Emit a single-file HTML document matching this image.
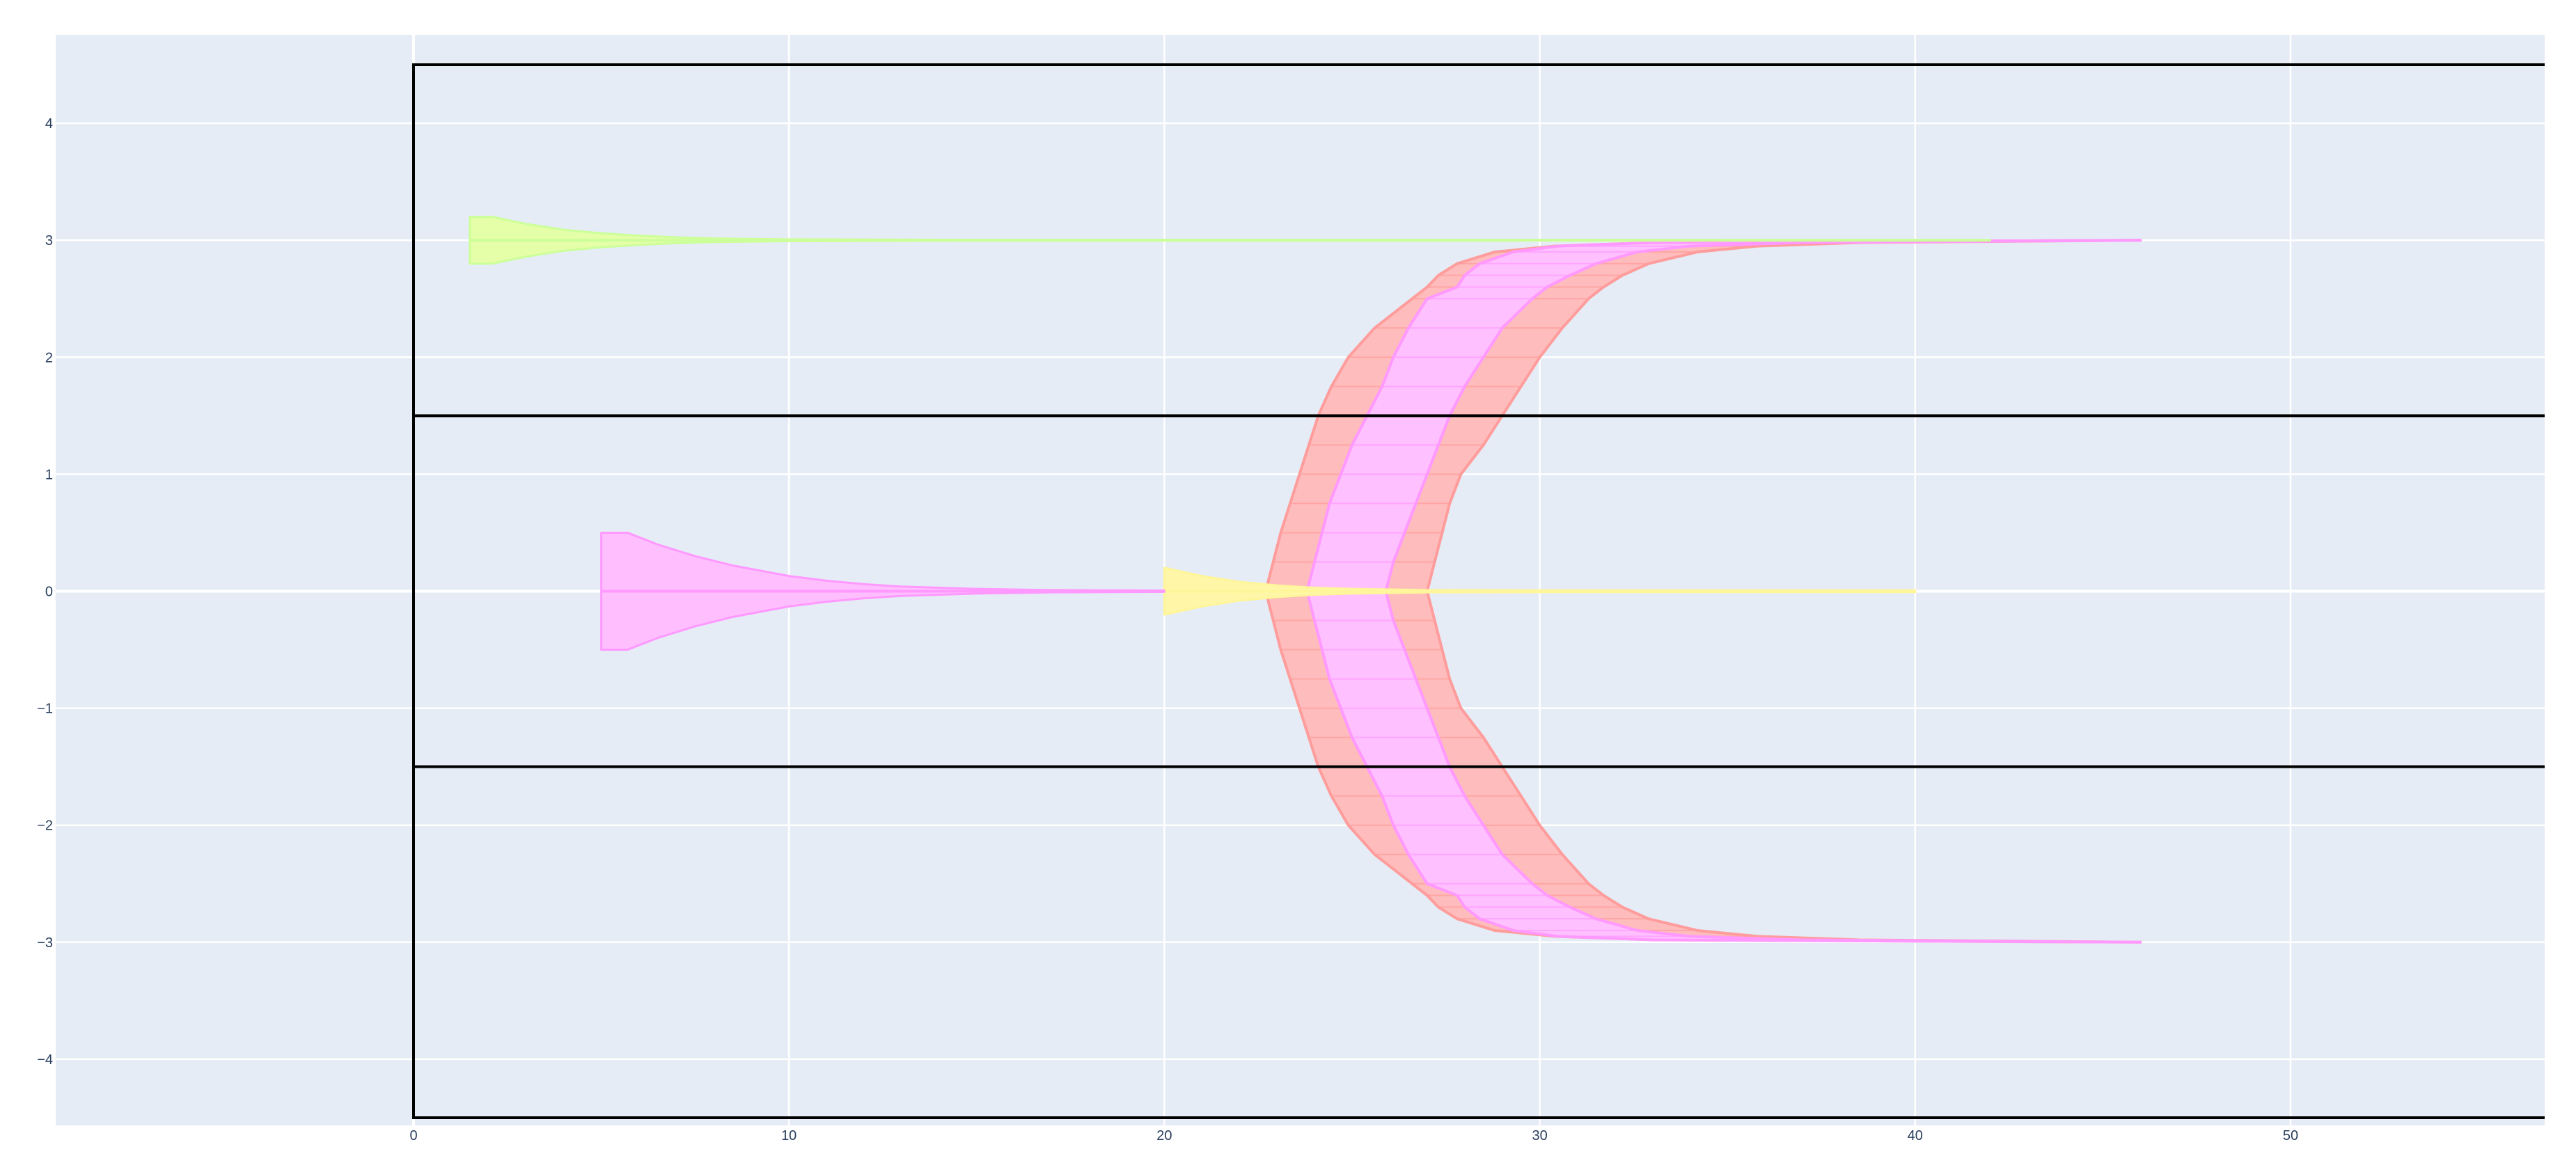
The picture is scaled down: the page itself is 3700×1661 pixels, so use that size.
<!DOCTYPE html>
<html><head><meta charset="utf-8"><style>
html,body{margin:0;padding:0;background:#fff;}
svg{display:block;font-family:"Liberation Sans",sans-serif;}
</style></head><body>
<svg id="chart" width="3700" height="1661" viewBox="0 0 3700 1661" xmlns="http://www.w3.org/2000/svg">
<defs><clipPath id="clip"><rect x="80" y="50" width="3575" height="1567"/></clipPath></defs>
<rect x="80" y="50" width="3575" height="1567" fill="#e5ecf6"/>
<g id="grid"></g>
<g id="marks" clip-path="url(#clip)"></g>
<g id="shapes" clip-path="url(#clip)"></g>
<g id="xticks"></g>
<g id="yticks"></g>
</svg>
<script>
const xTicks = [0,10,20,30,40,50];
const yTicks = [-4,-3,-2,-1,0,1,2,3,4];
const yTickLabels = ["\u22124","\u22123","\u22122","\u22121","0","1","2","3","4"];
const hLines = [4.5,1.5,-1.5,-4.5];
const vLineX = [0];
// green series at y=3
const greenY = 3;
const greenX = [1.5,2.1,3,4,5,6,7,8,10,15,42];
const greenHW = [0.2,0.2,0.14,0.09,0.06,0.04,0.025,0.015,0.008,0.003,0.002];
// magenta series at y=0
const magY = 0;
const magX = [5,5.7,6.5,7.5,8.5,10,11,12,13,15,17,20];
const magHW = [0.5,0.5,0.4,0.3,0.22,0.13,0.09,0.06,0.04,0.02,0.01,0.005];
// yellow series at y=0
const yelY = 0;
const yelX = [20,21,22,23,24,25,27,30,40];
const yelHW = [0.2,0.13,0.08,0.05,0.03,0.02,0.01,0.008,0.008];
// C-shaped bands (upper branch; lower mirrored)
const bandY = [0,0.25,0.5,0.75,1.0,1.25,1.5,1.75,2.0,2.25,2.5,2.6,2.7,2.8,2.9,2.95,2.98,3.0];
const redL  = [22.7,22.9,23.1,23.35,23.6,23.85,24.1,24.45,24.9,25.6,26.6,27.0,27.3,27.8,28.8,30.4,33,46];
const redR  = [27.0,27.2,27.4,27.6,27.9,28.5,29.0,29.5,30.0,30.6,31.3,31.7,32.2,32.9,34.2,35.8,38.5,46];
const pinkL = [23.8,24.0,24.2,24.4,24.7,25.0,25.4,25.8,26.1,26.5,27.0,27.8,28.0,28.4,29.3,30.5,33,46];
const pinkR = [25.9,26.1,26.4,26.7,27.0,27.3,27.6,28.0,28.5,29.0,29.8,30.2,30.8,31.5,32.6,34.0,37,46];

const X0=594, XS=53.92, Y0=849.5, YS=168.1;
const sx = v => X0 + v*XS;
const sy = v => Y0 - v*YS;
const NS="http://www.w3.org/2000/svg";
function mk(tag, attrs, parent){const e=document.createElementNS(NS,tag);for(const k in attrs)e.setAttribute(k,attrs[k]);parent.appendChild(e);return e;}
const grid=document.getElementById('grid'), marks=document.getElementById('marks'), shapes=document.getElementById('shapes');
const xt=document.getElementById('xticks'), yt=document.getElementById('yticks');

xTicks.forEach(v=>{
  const l=mk('line',{x1:sx(v),x2:sx(v),y1:50,y2:1617,stroke:'#fff','stroke-width':v===0?4:2.5},grid);
  
  
  const t=mk('text',{x:sx(v),y:1638,'text-anchor':'middle','font-size':20,fill:'#2a3f5f'},xt);
  t.textContent=v;
  
  
});
yTicks.forEach((v,i)=>{
  const l=mk('line',{x1:80,x2:3655,y1:sy(v),y2:sy(v),stroke:'#fff','stroke-width':v===0?4:2.5},grid);
  
  
  const t=mk('text',{x:76,y:sy(v)+7,'text-anchor':'end','font-size':20,fill:'#2a3f5f'},yt);
  t.textContent=yTickLabels[i];
  
  
});

function envelope(xs,hws,yc,fill,stroke,name){
  let top=xs.map((x,i)=>sx(x)+','+sy(yc+hws[i]));
  let bot=xs.map((x,i)=>sx(x)+','+sy(yc-hws[i])).reverse();
  const p=mk('polygon',{points:top.concat(bot).join(' '),fill:fill,stroke:stroke,'stroke-width':3,'stroke-linejoin':'round'},marks);
  
  
  const l=mk('line',{x1:sx(xs[0]),x2:sx(xs[xs.length-1]),y1:sy(yc),y2:sy(yc),stroke:stroke,'stroke-width':4},marks);
  
  
}
function band(L,R,fill,stroke,name){
  [1,-1].forEach(sgn=>{
    const left=bandY.map((y,i)=>sx(L[i])+','+sy(sgn*y));
    const right=bandY.map((y,i)=>sx(R[i])+','+sy(sgn*y)).reverse();
    const p=mk('polygon',{points:left.concat(right).join(' '),fill:fill,stroke:stroke,'stroke-width':4,'stroke-linejoin':'round'},marks);
    
    
    for(let i=0;i<bandY.length-1;i++){
      const r=mk('line',{x1:sx(L[i]),x2:sx(R[i]),y1:sy(sgn*bandY[i]),y2:sy(sgn*bandY[i]),stroke:stroke,'stroke-width':2,opacity:0.7},marks);
      
      
    }
  });
}
band(redL,redR,'#ffbcbc','#ff9c9c','red-band');
band(pinkL,pinkR,'#ffc0ff','#ff99ff','pink-band');
envelope(yelX,yelHW,yelY,'#fff6a8','#fff59a','yellow-series');
envelope(magX,magHW,magY,'#ffbfff','#ff99ff','magenta-series');
envelope(greenX,greenHW,greenY,'#e4ffa8','#ccff99','green-series');

hLines.forEach(v=>{
  const l=mk('line',{x1:sx(0)-2,x2:3700,y1:sy(v),y2:sy(v),stroke:'#000','stroke-width':4},shapes);
  
  
});
vLineX.forEach(v=>{
  const l=mk('line',{x1:sx(v),x2:sx(v),y1:sy(4.5),y2:sy(-4.5),stroke:'#000','stroke-width':4},shapes);
  
  
});
</script>
</body></html>
